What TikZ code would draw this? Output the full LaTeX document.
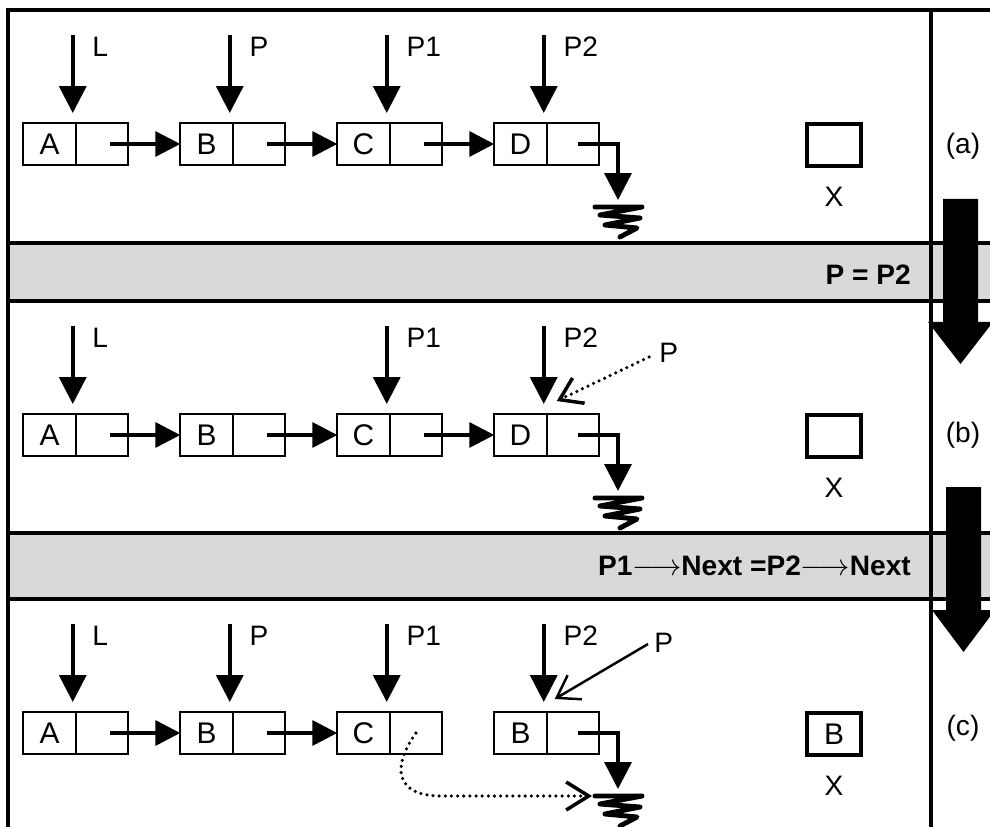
\documentclass[tikz,border=0pt]{standalone}
\usepackage{fontspec}
\setmainfont{Liberation Sans}
\usetikzlibrary{arrows.meta,calc,positioning}
\definecolor{bandgray}{RGB}{217,217,217}
\tikzset{
  cell/.style={
    draw, line width=1.1pt,
    minimum width=1.05cm, minimum height=0.84cm,
    inner sep=0pt, outer sep=0pt,
    font=\fontsize{17}{20}\selectfont
  },
  xcell/.style={
    draw, line width=1.8pt,
    minimum width=1.08cm, minimum height=0.84cm,
    inner sep=0pt, font=\fontsize{17}{20}\selectfont
  },
  link/.style={line width=2pt, -{Triangle[length=0.5cm,width=0.5cm]}},
  pointer/.style={line width=2pt, -{Triangle[length=0.54cm,width=0.54cm]}},
  ptrlabel/.style={anchor=north west, inner sep=0pt, xshift=0.36cm},
  side pointer/.style={line width=1.4pt, -{Straight Barb[length=0.42cm,width=0.56cm]}},
  dotted link/.style={
    line width=2pt, line cap=round, dash pattern=on 0pt off 3.5pt,
    -{Straight Barb[length=0.45cm,width=0.56cm]}
  },
  ground/.style={line width=2.8pt, line join=round, line cap=round},
  frame/.style={line width=2pt},
  bandtext/.style={anchor=east, font=\fontsize{16}{19}\selectfont\bfseries}
}

\begin{document}
\begin{tikzpicture}[x=0.02cm, y=-0.02cm, font=\fontsize{16}{19}\selectfont]

  \useasboundingbox (0,0) rectangle (990,827);
  \clip (0,0) rectangle (990,827);

  % Gray bands with the two assignments.
  \fill[bandgray] (8,243) rectangle (990,301);
  \fill[bandgray] (8,533) rectangle (990,599);
  \node[bandtext] (stepone) at (917,275) {P = P2};
  \node[bandtext] (steptwo) at (917,566)
    {P1$\longrightarrow$Next =P2$\longrightarrow$Next};

  % Frame and separators.
  \draw[frame] (8,827) -- (8,10) -- (990,10);
  \draw[frame] (931,10) -- (931,827);
  \draw[frame] (8,243) -- (990,243);
  \draw[frame] (8,301) -- (990,301);
  \draw[frame] (8,533) -- (990,533);
  \draw[frame] (8,599) -- (990,599);

  % Big step arrows.
  \fill (943,199) -- (978,199) -- (978,322) -- (993,322)
    -- (960.5,364) -- (928,322) -- (943,322) -- cycle;
  \fill (946,487) -- (981,487) -- (981,610) -- (995,610)
    -- (963.5,652) -- (932,610) -- (946,610) -- cycle;

  % Row (a): initial list.
  \node[cell] (a1) at (49.5,144) {A};
  \node[cell, right=0pt of a1] (a1n) {};
  \node[cell] (a2) at (206.5,144) {B};
  \node[cell, right=0pt of a2] (a2n) {};
  \node[cell] (a3) at (363.5,144) {C};
  \node[cell, right=0pt of a3] (a3n) {};
  \node[cell] (a4) at (520.5,144) {D};
  \node[cell, right=0pt of a4] (a4n) {};

  \draw[link] ($(a1n.center)+(8,0)$) -- (a2.west);
  \draw[link] ($(a2n.center)+(8,0)$) -- (a3.west);
  \draw[link] ($(a3n.center)+(8,0)$) -- (a4.west);
  \coordinate (ga) at ($(a4n.center)+(45,63)$);
  \draw[pointer] ($(a4n.center)+(5,0)$) -| ($(ga)+(0,-7)$);
  \draw[ground] (ga) ++(-23,0) -- ++(47,0) -- ++(-42,8) -- ++(40,3)
    -- ++(-35,7) -- ++(32,3) -- ++(-17,9);

  \draw[pointer] ($(a1.north east)+(-3,-88)$) node[ptrlabel] (la1) {L}
    -- ($(a1.north east)+(-3,-10)$);
  \draw[pointer] ($(a2.north east)+(-3,-88)$) node[ptrlabel] (la2) {P}
    -- ($(a2.north east)+(-3,-10)$);
  \draw[pointer] ($(a3.north east)+(-3,-88)$) node[ptrlabel] (la3) {P1}
    -- ($(a3.north east)+(-3,-10)$);
  \draw[pointer] ($(a4.north east)+(-3,-88)$) node[ptrlabel] (la4) {P2}
    -- ($(a4.north east)+(-3,-10)$);

  \node[xcell] (xa) at (834,145) {};
  \node (xla) at (834,197) {X};
  \node (taga) at (963,146) {(a)};

  % Row (b): P moved onto P2.
  \node[cell] (b1) at (49.5,435) {A};
  \node[cell, right=0pt of b1] (b1n) {};
  \node[cell] (b2) at (206.5,435) {B};
  \node[cell, right=0pt of b2] (b2n) {};
  \node[cell] (b3) at (363.5,435) {C};
  \node[cell, right=0pt of b3] (b3n) {};
  \node[cell] (b4) at (520.5,435) {D};
  \node[cell, right=0pt of b4] (b4n) {};

  \draw[link] ($(b1n.center)+(8,0)$) -- (b2.west);
  \draw[link] ($(b2n.center)+(8,0)$) -- (b3.west);
  \draw[link] ($(b3n.center)+(8,0)$) -- (b4.west);
  \coordinate (gb) at ($(b4n.center)+(45,63)$);
  \draw[pointer] ($(b4n.center)+(5,0)$) -| ($(gb)+(0,-7)$);
  \draw[ground] (gb) ++(-23,0) -- ++(47,0) -- ++(-42,8) -- ++(40,3)
    -- ++(-35,7) -- ++(32,3) -- ++(-17,9);

  \draw[pointer] ($(b1.north east)+(-3,-88)$) node[ptrlabel] (lb1) {L}
    -- ($(b1.north east)+(-3,-10)$);
  \draw[pointer] ($(b3.north east)+(-3,-88)$) node[ptrlabel] (lb3) {P1}
    -- ($(b3.north east)+(-3,-10)$);
  \draw[pointer] ($(b4.north east)+(-3,-88)$) node[ptrlabel] (lb4) {P2}
    -- ($(b4.north east)+(-3,-10)$);
  \node[anchor=west, inner sep=0pt] (pb) at (659,353) {P};
  \draw[side pointer, line width=2pt, line cap=round, dash pattern=on 0pt off 3.5pt]
    ($(pb.west)+(-10,4)$) -- ($(b4.north east)+(10,-13)$);

  \node[xcell] (xb) at (834,436) {};
  \node (xlb) at (834,488) {X};
  \node (tagb) at (963,435) {(b)};

  % Row (c): P1 takes over the next field of P2.
  \node[cell] (c1) at (49.5,733) {A};
  \node[cell, right=0pt of c1] (c1n) {};
  \node[cell] (c2) at (206.5,733) {B};
  \node[cell, right=0pt of c2] (c2n) {};
  \node[cell] (c3) at (363.5,733) {C};
  \node[cell, right=0pt of c3] (c3n) {};
  \node[cell] (c4) at (520.5,733) {B};
  \node[cell, right=0pt of c4] (c4n) {};

  \draw[link] ($(c1n.center)+(8,0)$) -- (c2.west);
  \draw[link] ($(c2n.center)+(8,0)$) -- (c3.west);
  \coordinate (gc) at ($(c4n.center)+(45,63)$);
  \draw[pointer] ($(c4n.center)+(5,0)$) -| ($(gc)+(0,-7)$);
  \draw[ground] (gc) ++(-23,0) -- ++(47,0) -- ++(-42,8) -- ++(40,3)
    -- ++(-35,7) -- ++(32,3) -- ++(-17,9);
  \draw[dotted link] (c3n.center)
    .. controls ($(c3n.center)+(-25,35)$) and ($(c3n.center)+(-20,63)$)
    .. ($(c3n.center)+(25,63)$) -- ($(gc)+(-26,0)$);

  \draw[pointer] ($(c1.north east)+(-3,-88)$) node[ptrlabel] (lc1) {L}
    -- ($(c1.north east)+(-3,-10)$);
  \draw[pointer] ($(c2.north east)+(-3,-88)$) node[ptrlabel] (lc2) {P}
    -- ($(c2.north east)+(-3,-10)$);
  \draw[pointer] ($(c3.north east)+(-3,-88)$) node[ptrlabel] (lc3) {P1}
    -- ($(c3.north east)+(-3,-10)$);
  \draw[pointer] ($(c4.north east)+(-3,-88)$) node[ptrlabel] (lc4) {P2}
    -- ($(c4.north east)+(-3,-10)$);
  \node[anchor=west, inner sep=0pt] (pc) at (654,643) {P};
  \draw[side pointer] ($(pc.west)+(-6,1)$) -- ($(c4.north east)+(8,-13)$);

  \node[xcell] (xc) at (834,734) {B};
  \node (xlc) at (834,786) {X};
  \node (tagc) at (963,728) {(c)};

\end{tikzpicture}
\end{document}
